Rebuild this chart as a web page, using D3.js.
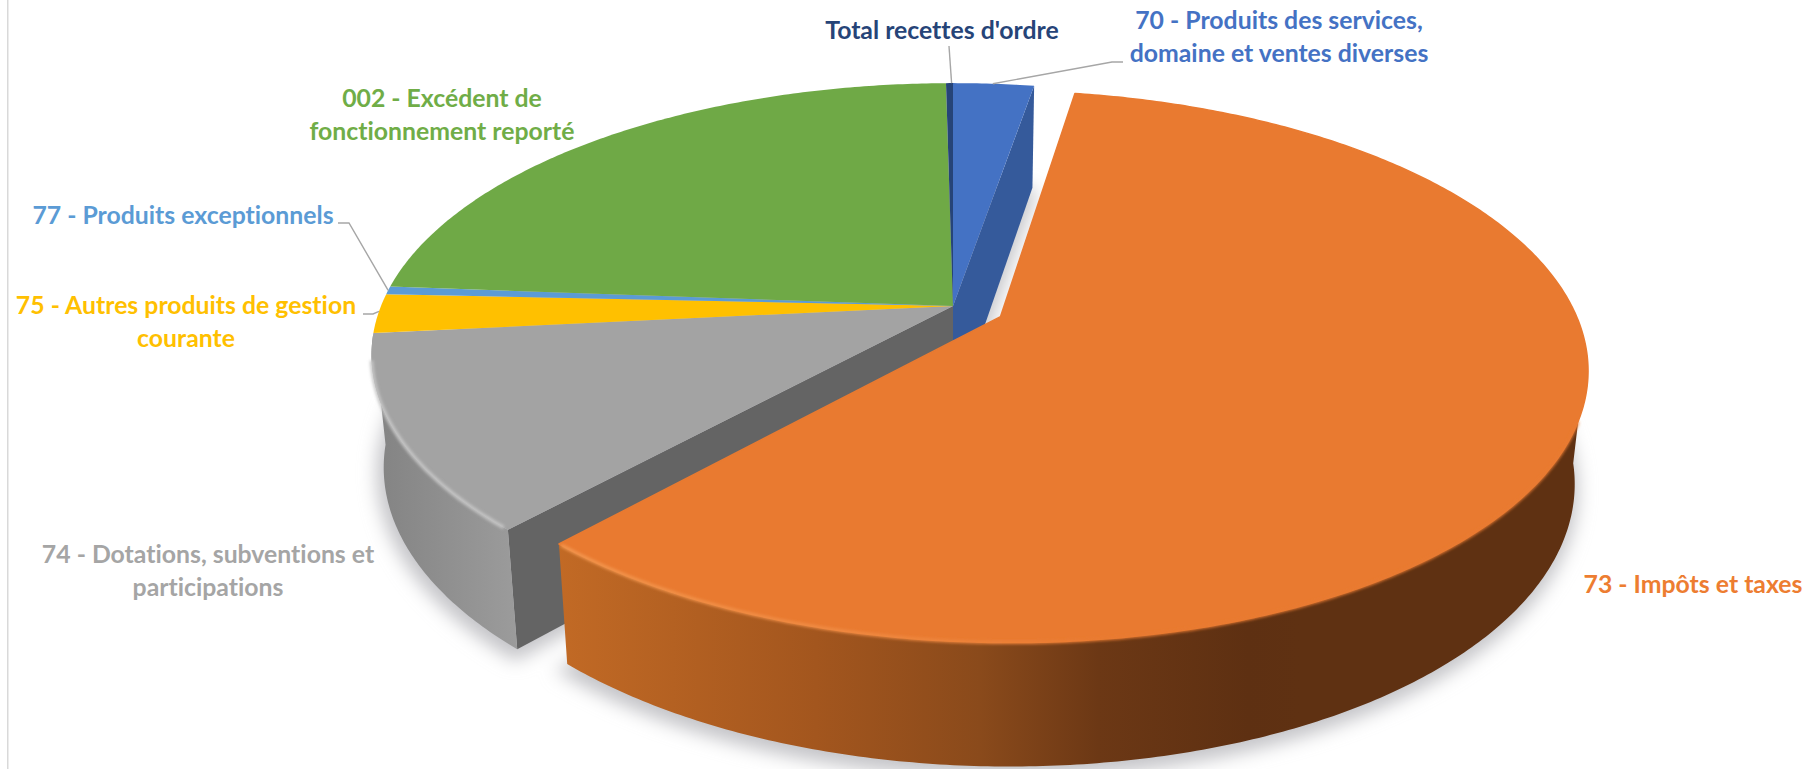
<!DOCTYPE html>
<html>
<head>
<meta charset="utf-8">
<script src="https://cdn.jsdelivr.net/npm/d3@7"></script>
<style>
html, body { margin: 0; padding: 0; background: #fff; overflow: hidden; }
text { font-family: Lato, "Open Sans", sans-serif; font-weight: 700; font-variant-ligatures: none; }
</style>
</head>
<body>
<script>
// clockwise from 12 o'clock, shares in %
const categories = [
    "70 - Produits des services,\ndomaine et ventes diverses",
    "73 - Impôts et taxes",
    "74 - Dotations, subventions et\nparticipations",
    "75 - Autres produits de gestion\ncourante",
    "77 - Produits exceptionnels",
    "002 - Excédent de\nfonctionnement reporté",
    "Total recettes d'ordre"
];
const shares = [2.67, 59.1, 11.6, 2.33, 0.47, 23.57, 0.23];
const colors = ["#4472c4", "#e97a30", "#a3a3a3", "#ffc000", "#5b9bd5", "#6fa946", "#264478"];
const textColors = ["#4472c4", "#ed7d31", "#a5a5a5", "#ffc000", "#5b9bd5", "#70ad47", "#264478"];

// label anchor x and first baseline, same order as categories
const labelX = [1279, 1693, 208, 186, 183, 442, 942];
const labelY = [29, 593, 563, 314, 224, 107, 39];
const lineGap = 32.5;
const fontSize = 24.8;

// elbow points of the leader lines, index into the categories
const leaders = [
    { slice: 0, angle: 0.49, pts: [[1123, 62], [1112, 62]] },
    { slice: 3, angle: 0.55, pts: [[363, 314], [373, 314]] },
    { slice: 4, angle: 0.5, pts: [[338, 223], [349, 223]] },
    { slice: 6, angle: 0.8, pts: [[949, 46]] }
];

const width = 1809, height = 769;

// the disc is drawn through two perspective maps, top face and bottom face
const topFace = { cx: 953, cy: 306, a: 572, b: 263, p: 0.18 };
const botFace = { cx: 953, cy: 416.6, a: 560, b: 273.4, p: 0.18 };
const explodeBy = 0.0917;
const explodedIndex = 1;

function project(face, u, v) {
    var w = 1 - face.p * v;
    return [face.cx + face.a * u / w, face.cy + face.b * v / w];
}

var svg = d3.select("body").append("svg")
    .attr("width", width)
    .attr("height", height)
    .style("display", "block");

var defs = svg.append("defs");
defs.append("filter").attr("id", "blurShadow")
    .attr("x", "-20%").attr("y", "-20%").attr("width", "140%").attr("height", "140%")
    .append("feGaussianBlur").attr("stdDeviation", 9);
defs.append("filter").attr("id", "blurRim")
    .attr("filterUnits", "userSpaceOnUse")
    .attr("x", 0).attr("y", 0).attr("width", width).attr("height", height)
    .append("feGaussianBlur").attr("stdDeviation", 1.6);

function gradient(id, x1, x2, stops) {
    var g = defs.append("linearGradient").attr("id", id)
        .attr("gradientUnits", "userSpaceOnUse")
        .attr("x1", x1).attr("x2", x2).attr("y1", 0).attr("y2", 0);
    stops.forEach(function(s) {
        g.append("stop").attr("offset", s[0]).attr("stop-color", s[1]);
    });
}
gradient("wallOrange", 555, 1300, [[0, "#c26a25"], [0.35, "#a3561e"], [0.57, "#8a4a1b"], [0.73, "#6c3815"], [0.93, "#5e3012"], [1, "#5f3112"]]);
gradient("wallGray", 375, 520, [[0, "#838383"], [1, "#9c9c9c"]]);
// rim light dies out towards the right, the edge there is only soft
gradient("rimOrange", 560, 1120, [[0, "#f49a52"], [0.6, "#f08a42"], [1, "#e97a30"]]);

svg.append("rect")
    .attr("x", 7).attr("y", 0).attr("width", 1.5).attr("height", height)
    .attr("fill", "#d9d9d9");

var slices = d3.pie().sort(null).value(d => d)(shares);
var line = d3.line();

function offsetOf(i) {
    if (i != explodedIndex) return [0, 0];
    var mid = (slices[i].startAngle + slices[i].endAngle) / 2;
    return [explodeBy * Math.sin(mid), -explodeBy * Math.cos(mid)];
}

// points along the rim of one slice, from angle a0 to a1
function rim(face, i, a0, a1) {
    var off = offsetOf(i);
    var n = Math.max(2, Math.ceil(Math.abs(a1 - a0) / 0.01));
    return d3.range(n + 1).map(function(k) {
        var a = a0 + (a1 - a0) * k / n;
        return project(face, off[0] + Math.sin(a), off[1] - Math.cos(a));
    });
}
function centre(face, i) {
    var off = offsetOf(i);
    return project(face, off[0], off[1]);
}
function sector(face, i) {
    return [centre(face, i)].concat(rim(face, i, slices[i].startAngle, slices[i].endAngle));
}
function wall(i, a0, a1) {
    return rim(topFace, i, a0, a1).concat(rim(botFace, i, a0, a1).reverse());
}
function cutFace(i, a) {
    return [centre(topFace, i), rim(topFace, i, a, a)[0], rim(botFace, i, a, a)[0], centre(botFace, i)];
}

// soft ground shadow
var shadow = svg.append("g").attr("filter", "url(#blurShadow)");
slices.forEach(function(s, i) {
    shadow.append("path")
        .attr("d", line(sector(botFace, i)) + "Z")
        .attr("fill", "#c4c4c8")
        .attr("stroke", "#c4c4c8")
        .attr("stroke-width", 10)
        .attr("transform", "translate(-2,6)");
});

// rest of the pie first, the exploded slice goes over it
svg.append("path").attr("d", line(cutFace(2, slices[2].startAngle)) + "Z").attr("fill", "#646464");
svg.append("path").attr("d", line(wall(2, slices[2].startAngle, slices[2].endAngle)) + "Z").attr("fill", "url(#wallGray)");
svg.append("path").attr("d", line(cutFace(0, slices[0].endAngle)) + "Z").attr("fill", "#355a9b");

slices.forEach(function(s, i) {
    if (i == explodedIndex) return;
    svg.append("path")
        .attr("d", line(sector(topFace, i)) + "Z")
        .attr("fill", colors[i]);
});
svg.append("path")
    .attr("d", line(rim(topFace, 2, slices[2].startAngle + 0.01, slices[2].endAngle - 0.1)))
    .attr("fill", "none")
    .attr("stroke", "#c6c6c6")
    .attr("stroke-width", 3.5)
    .attr("filter", "url(#blurRim)");

// exploded slice
var ex = slices[explodedIndex];
svg.append("path")
    .attr("d", line(wall(explodedIndex, Math.PI * 0.54, ex.endAngle)) + "Z")
    .attr("fill", "url(#wallOrange)");
svg.append("path")
    .attr("d", line(sector(topFace, explodedIndex)) + "Z")
    .attr("fill", colors[explodedIndex])
    .attr("stroke", colors[explodedIndex])
    .attr("stroke-linejoin", "round")
    .attr("stroke-width", 1.5);
svg.append("path")
    .attr("d", line(rim(topFace, explodedIndex, Math.PI * 0.62, ex.endAngle - 0.005)))
    .attr("fill", "none")
    .attr("stroke", "url(#rimOrange)")
    .attr("stroke-width", 3)
    .attr("filter", "url(#blurRim)");

// leader lines
leaders.forEach(function(d) {
    var s = slices[d.slice];
    var a = s.startAngle + (s.endAngle - s.startAngle) * d.angle;
    var end = rim(topFace, d.slice, a, a)[0];
    svg.append("path")
        .attr("d", line(d.pts.concat([end])))
        .attr("fill", "none")
        .attr("stroke", "#a6a6a6")
        .attr("stroke-width", 1.4);
});

// labels
categories.forEach(function(name, i) {
    var t = svg.append("text")
        .attr("text-anchor", "middle")
        .attr("font-size", fontSize)
        .attr("fill", textColors[i]);
    name.split("\n").forEach(function(part, k) {
        t.append("tspan")
            .attr("x", labelX[i])
            .attr("y", labelY[i] + k * lineGap)
            .text(part);
    });
});
</script>
</body>
</html>
